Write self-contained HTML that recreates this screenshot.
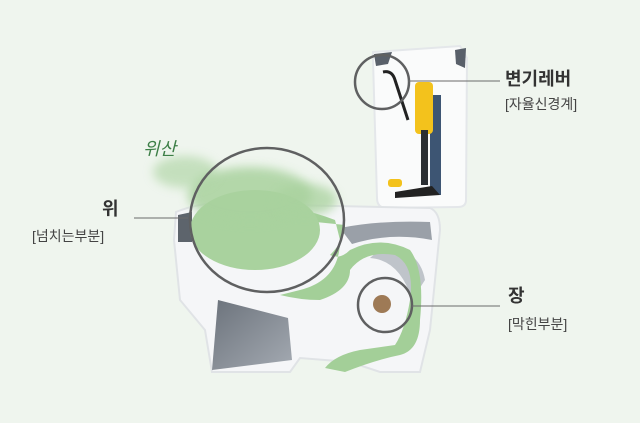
<!DOCTYPE html>
<html><head><meta charset="utf-8"><style>
body{margin:0;background:#eff5ee;}
svg{display:block}
text{font-family:"Liberation Sans","Noto Sans CJK KR",sans-serif;}
</style></head><body>
<svg width="640" height="423" viewBox="0 0 640 423" xmlns="http://www.w3.org/2000/svg">
<defs>
<filter id="b" x="-30%" y="-30%" width="160%" height="160%"><feGaussianBlur stdDeviation="5"/></filter>
<linearGradient id="g1" x1="0" y1="0" x2="1" y2="1"><stop offset="0" stop-color="#6c737c"/><stop offset="1" stop-color="#a4aab2"/></linearGradient>
</defs>
<rect width="640" height="423" fill="#eff5ee"/>
<!-- tank -->
<path d="M373 52 L460 46 L467 58 L466 200 Q466 207 458 207 L385 208 Q377 207 377 198 L373 60 Z" fill="#fafbfb" stroke="#e4e7ea" stroke-width="2"/>
<path d="M374 54 L392 52 L388 64 L376 66 Z" fill="#59606a"/>
<rect x="430" y="95" width="11" height="100" fill="#3d5573"/>
<rect x="415" y="82" width="18" height="52" rx="4" fill="#f3c21c"/>
<rect x="421" y="130" width="7" height="55" fill="#2b2f33"/>
<path d="M395 192 L432 186 L440 195 L395 198 Z" fill="#222"/>
<rect x="388" y="179" width="14" height="8" rx="3" fill="#f3c21c"/>
<path d="M383 72 Q392 70 395 80 L408 120" stroke="#222" stroke-width="3" fill="none"/>
<path d="M455 50 L466 48 L465 68 L456 64 Z" fill="#59606a"/>
<!-- body -->
<path d="M176 212 Q205 200 240 204 L430 208 Q440 212 440 230 L430 330 L420 372 L380 372 L350 362 L300 358 L290 372 L212 372 L205 330 L180 300 L174 240 Z" fill="#f5f6f8" stroke="#e0e3e6" stroke-width="2"/>
<path d="M218 300 L288 318 L292 360 L212 370 Z" fill="url(#g1)"/>
<path d="M178 215 L192 212 L192 242 L178 242 Z" fill="#5d646c"/>
<path d="M340 228 Q380 220 430 222 L432 240 Q390 232 352 244 Z" fill="#9aa0a8"/>
<path d="M385 245 Q420 250 425 280 L412 300 Q400 260 370 258 Z" fill="#bfc4ca"/>
<!-- green water path -->
<path d="M200 210 Q270 195 335 220 L340 240 Q340 280 300 290 L280 295 Q300 300 320 300 Q350 290 350 270 Q365 250 395 255 Q415 265 410 300 Q405 330 395 345 L360 350 Q335 355 325 368 L345 372 Q375 360 400 355 Q420 350 420 320 Q425 270 410 250 Q380 235 350 250 Q340 260 330 255 Q345 240 345 225 Z" fill="#a3cf98"/>
<ellipse cx="255" cy="230" rx="65" ry="40" fill="#a9d29e"/>
<ellipse cx="250" cy="195" rx="62" ry="28" fill="#a9d29e" opacity="0.85" filter="url(#b)"/>
<ellipse cx="185" cy="172" rx="32" ry="16" fill="#a9d29e" opacity="0.6" filter="url(#b)"/>
<ellipse cx="305" cy="200" rx="32" ry="16" fill="#a9d29e" opacity="0.75" filter="url(#b)"/>
<!-- poop -->
<circle cx="382" cy="304" r="9" fill="#9e7a56"/>
<!-- circles -->
<ellipse cx="267" cy="220" rx="77" ry="72" fill="none" stroke="#5f6061" stroke-width="2.5"/>
<circle cx="382" cy="82" r="27" fill="none" stroke="#5f6061" stroke-width="2.5"/>
<circle cx="385" cy="305" r="27" fill="none" stroke="#5f6061" stroke-width="2.5"/>
<!-- leader lines -->
<line x1="134" y1="218" x2="188" y2="218" stroke="#6a6a6a" stroke-width="1"/>
<line x1="408" y1="81" x2="500" y2="81" stroke="#6a6a6a" stroke-width="1"/>
<line x1="412" y1="306" x2="500" y2="306" stroke="#6a6a6a" stroke-width="1"/>
<!-- labels -->
<text x="143" y="155" font-size="18" font-style="italic" fill="#3d7f47">위산</text>
<text x="102" y="215" font-size="18" font-weight="bold" fill="#333">위</text>
<text x="32" y="241" font-size="14" fill="#444">[넘치는부분]</text>
<text x="505" y="85" font-size="18" font-weight="bold" fill="#333">변기레버</text>
<text x="505" y="109" font-size="14" fill="#444">[자율신경계]</text>
<text x="508" y="302" font-size="18" font-weight="bold" fill="#333">장</text>
<text x="508" y="329" font-size="14" fill="#444">[막힌부분]</text>
</svg>
</body></html>
